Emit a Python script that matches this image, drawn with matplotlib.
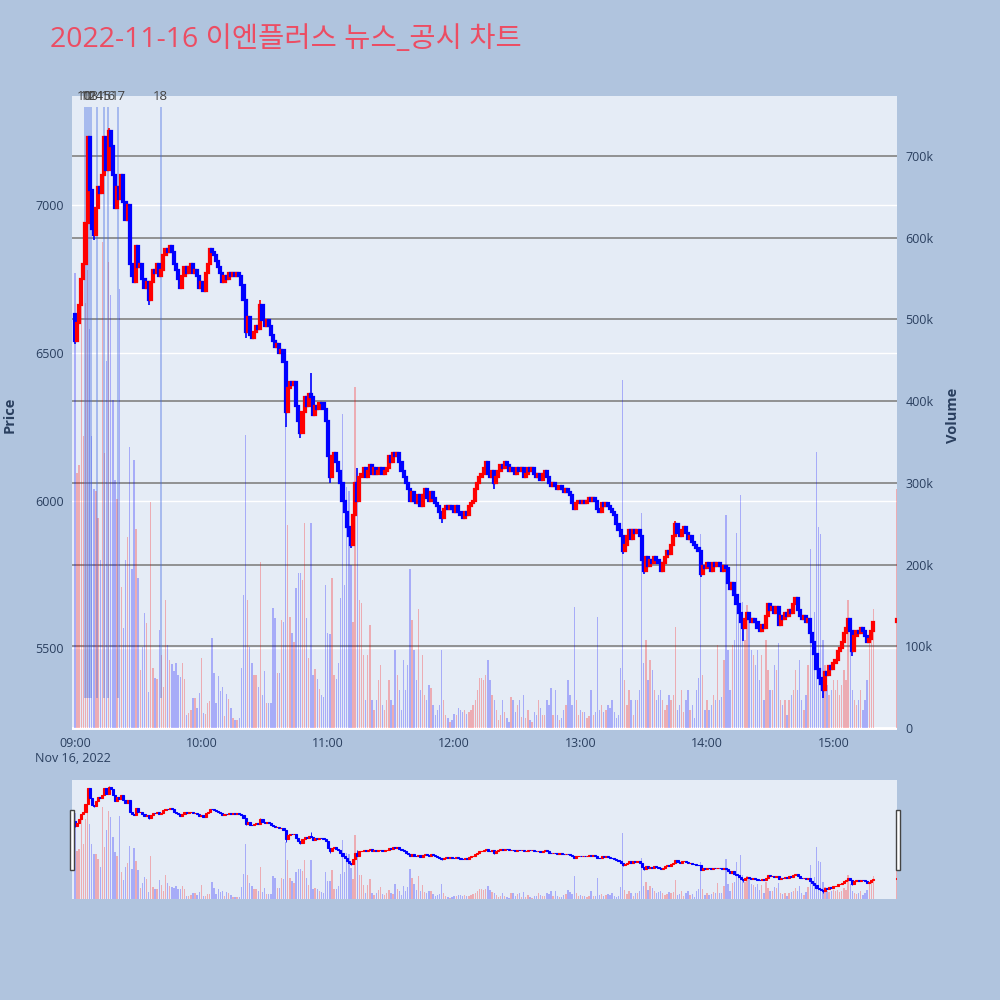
import numpy as np
import pandas as pd
import matplotlib
matplotlib.use('Agg')
import matplotlib.pyplot as plt
from matplotlib.patches import Rectangle
from matplotlib.transforms import blended_transform_factory
from matplotlib.ticker import FuncFormatter

plt.rcParams['font.family'] = ['Open Sans', 'Noto Sans CJK KR', 'DejaVu Sans']

# ---- data (1-minute candles, 2022-11-16) ----
first_open = 6630
closes = [
    6540, 6600, 6660, 6750, 6800, 6940, 7230, 7050, 6920, 6900,
    6990, 7060, 7040, 7100, 7230, 7120, 7250, 7200, 7100, 6990,
    7060, 7020, 7100, 7010, 6950, 7000, 6800, 6760, 6740, 6860,
    6790, 6800, 6750, 6720, 6740, 6680, 6740, 6780, 6770, 6800,
    6760, 6780, 6830, 6850, 6840, 6860, 6840, 6800, 6780, 6750,
    6720, 6760, 6790, 6770, 6790, 6800, 6770, 6780, 6760, 6720,
    6740, 6710, 6770, 6800, 6850, 6840, 6830, 6810, 6790, 6770,
    6740, 6760, 6750, 6770, 6760, 6770, 6760, 6770, 6760, 6730,
    6680, 6570, 6620, 6560, 6550, 6570, 6590, 6580, 6660, 6610,
    6590, 6610, 6590, 6560, 6540, 6520, 6530, 6500, 6510, 6470,
    6300, 6380, 6400, 6390, 6400, 6320, 6270, 6230, 6300, 6350,
    6320, 6360, 6350, 6290, 6320, 6310, 6330, 6330, 6310, 6270,
    6150, 6080, 6150, 6160, 6130, 6100, 6060, 6000, 5960, 5910,
    5880, 5850, 5950, 6060, 6000, 6080, 6090, 6110, 6080, 6100,
    6120, 6090, 6110, 6090, 6100, 6110, 6090, 6100, 6110, 6150,
    6130, 6160, 6150, 6160, 6130, 6100, 6080, 6060, 6040, 6000,
    6030, 6000, 5990, 6020, 5980, 6020, 6040, 6010, 6000, 6030,
    6010, 5990, 5980, 5960, 5940, 5970, 5980, 5970, 5980, 5970,
    5960, 5980, 5960, 5950, 5940, 5960, 5950, 5980, 5990, 6000,
    6040, 6060, 6080, 6090, 6110, 6130, 6090, 6080, 6100, 6060,
    6080, 6100, 6120, 6110, 6130, 6120, 6100, 6110, 6100, 6090,
    6110, 6100, 6110, 6080, 6090, 6110, 6100, 6110, 6090, 6080,
    6090, 6070, 6090, 6100, 6080, 6060, 6050, 6060, 6050, 6040,
    6050, 6040, 6030, 6040, 6030, 6020, 5990, 5970, 5990, 6000,
    5990, 6000, 5990, 6000, 6010, 6000, 6010, 6000, 5970, 5960,
    5990, 5980, 5990, 5980, 5970, 5960, 5950, 5920, 5900, 5880,
    5830, 5850, 5880, 5900, 5870, 5900, 5890, 5900, 5880, 5800,
    5760, 5810, 5780, 5800, 5790, 5810, 5800, 5790, 5760, 5790,
    5810, 5830, 5820, 5850, 5880, 5920, 5890, 5880, 5900, 5910,
    5890, 5870, 5880, 5860, 5850, 5840, 5830, 5750, 5780, 5770,
    5790, 5780, 5760, 5790, 5780, 5790, 5780, 5760, 5780, 5770,
    5720, 5700, 5720, 5680, 5650, 5620, 5590, 5570, 5600, 5620,
    5600, 5590, 5600, 5590, 5570, 5560, 5580, 5570, 5610, 5650,
    5630, 5640, 5620, 5640, 5580, 5610, 5600, 5620, 5610, 5630,
    5620, 5650, 5670, 5630, 5610, 5600, 5610, 5590, 5600, 5550,
    5520, 5480, 5430, 5400, 5380, 5360, 5420, 5410, 5440, 5430,
    5450, 5460, 5490, 5500, 5520, 5550, 5570, 5600, 5560, 5490,
    5540, 5560, 5550, 5570, 5560, 5540, 5520, 5530, 5560, 5590,
]
# closing auction at 15:30
close_auction_open = 5590
close_auction_price = 5600

# wicks that reach past the candle body (minute index -> price)
wick_lows = {0: 6530, 9: 6880, 35: 6660, 81: 6550, 100: 6250, 107: 6210,
             121: 6060, 131: 5840, 174: 5925, 199: 6040, 260: 5820,
             270: 5750, 297: 5740, 317: 5525, 355: 5330, 369: 5475}
wick_highs = {16: 7260, 88: 6680, 112: 6430, 134: 6110, 285: 5930}

# volume in thousands of shares
volumes_k = [
    557, 312, 322, 534, 357, 520, 560, 488, 357, 292,
    290, 257, 206, 595, 337, 449, 570, 530, 402, 304,
    280, 537, 173, 122, 206, 234, 344, 194, 328, 243,
    184, 71, 99, 141, 129, 44, 277, 73, 61, 60,
    120, 89, 50, 157, 102, 83, 78, 70, 80, 65,
    62, 80, 60, 16, 18, 22, 37, 37, 25, 43,
    86, 18, 17, 31, 33, 110, 67, 30, 63, 45,
    50, 15, 42, 36, 25, 12, 10, 10, 12, 73,
    163, 359, 157, 99, 80, 65, 65, 50, 203, 40,
    70, 30, 30, 30, 147, 135, 67, 67, 132, 130,
    369, 249, 136, 116, 105, 171, 190, 190, 181, 251,
    135, 86, 251, 65, 72, 60, 48, 40, 38, 175,
    116, 115, 184, 65, 60, 80, 159, 384, 175, 295,
    290, 200, 130, 417, 300, 157, 153, 89, 34, 89,
    126, 34, 22, 34, 59, 77, 28, 22, 34, 59,
    34, 28, 96, 65, 47, 22, 83, 47, 77, 194,
    132, 96, 59, 145, 47, 89, 40, 34, 52, 49,
    28, 16, 22, 28, 96, 34, 16, 12, 7, 10,
    17, 16, 25, 22, 20, 22, 17, 20, 22, 28,
    34, 47, 61, 61, 59, 65, 83, 59, 40, 34,
    22, 10, 16, 34, 20, 12, 7, 38, 34, 20,
    28, 34, 13, 40, 12, 22, 10, 7, 20, 16,
    34, 25, 16, 16, 34, 28, 49, 16, 47, 16,
    10, 12, 22, 28, 59, 40, 28, 148, 34, 16,
    22, 20, 20, 12, 15, 47, 16, 20, 136, 22,
    28, 20, 22, 28, 25, 34, 20, 12, 16, 73,
    426, 59, 28, 47, 34, 16, 34, 34, 47, 263,
    80, 108, 59, 83, 71, 47, 34, 40, 47, 34,
    22, 28, 40, 34, 40, 124, 22, 28, 47, 20,
    34, 47, 22, 28, 12, 47, 61, 237, 65, 22,
    34, 22, 28, 40, 34, 102, 34, 38, 83, 261,
    96, 47, 102, 108, 239, 157, 285, 154, 108, 150,
    132, 96, 89, 77, 96, 59, 89, 34, 108, 71,
    47, 47, 77, 71, 104, 34, 28, 34, 16, 34,
    40, 47, 71, 47, 83, 34, 22, 40, 77, 219,
    105, 142, 338, 246, 238, 108, 77, 52, 40, 47,
    59, 47, 59, 40, 52, 71, 59, 157, 96, 47,
    34, 28, 34, 47, 22, 34, 59, 108, 108, 145,
]
close_auction_volume_k = 292

# news / disclosure markers
news_times = ['09:04:40', '09:05:50', '09:06:50', '09:07:35', '09:10:20',
              '09:14:00', '09:15:50', '09:20:30', '09:40:40']
news_labels = ['10', '11', '12', '13', '14', '15', '16', '17', '18']

# ---- build OHLC frame ----
day = pd.Timestamp('2022-11-16 09:00')
times = list(pd.date_range(day, periods=len(closes), freq='min')) + [pd.Timestamp('2022-11-16 15:30')]
c = np.array(closes + [close_auction_price], dtype=float)
o = np.concatenate([[first_open], c[:-2], [close_auction_open]])
df = pd.DataFrame({'time': times, 'open': o, 'close': c,
                   'volume': np.array(volumes_k + [close_auction_volume_k]) * 1000})
df['high'] = df[['open', 'close']].max(axis=1)
df['low'] = df[['open', 'close']].min(axis=1)
for k, v in wick_lows.items():
    df.loc[k, 'low'] = v
for k, v in wick_highs.items():
    df.loc[k, 'high'] = v
df['x'] = (df['time'] - day).dt.total_seconds() / 60
news_x = [(pd.Timestamp('2022-11-16 ' + t) - day).total_seconds() / 60 for t in news_times]

up = df['close'] > df['open']
cols = np.where(up, 'red', 'blue')

BG = '#B0C4DE'
PLOT_BG = '#E5ECF6'
FONT_C = '#2a3f5f'

price_lim = (df['low'].min() * 0.98, df['high'].max() * 1.015)
vol_lim = (-2500, df['volume'].max() * 1.3)
x_lim = (-1.4, 390.2)


def draw_candles(ax, body_w, lw, wick_lw):
    ax.vlines(df['x'], df['low'], df['high'], colors=cols, linewidth=wick_lw, zorder=3)
    ax.bar(df['x'], (df['close'] - df['open']).abs(), bottom=df[['open', 'close']].min(axis=1),
           width=body_w, color=cols, edgecolor=cols, linewidth=lw, zorder=4)


def draw_volume(ax, w):
    ax.bar(df['x'], df['volume'], width=w, color=cols, alpha=0.27, linewidth=0, zorder=2)


fig = plt.figure(figsize=(10, 10), dpi=100, facecolor=BG)

# ---- main chart ----
L, R = 0.072, 0.897
ax_v = fig.add_axes([L, 0.270, R - L, 0.634])
ax_v.set_facecolor(PLOT_BG)
ax_p = ax_v.twinx()
ax_v.yaxis.tick_right()
ax_p.yaxis.tick_left()

ax_v.set_xlim(*x_lim)
ax_v.set_ylim(*vol_lim)
ax_p.set_ylim(*price_lim)

# gridlines below everything
price_ticks = [5500, 6000, 6500, 7000]
vol_ticks = [0, 100000, 200000, 300000, 400000, 500000, 600000, 700000]
tr = blended_transform_factory(ax_v.transAxes, ax_p.transData)
for t in price_ticks:
    ax_v.plot([0, 1], [t, t], transform=tr, color='white', linewidth=1, zorder=0.5)
for t in vol_ticks[1:]:
    ax_v.axhline(t, color='#8a8a8a', linewidth=1.3, zorder=0.6)
ax_v.axhline(0, color='white', linewidth=2, zorder=0.7)

draw_volume(ax_v, 0.65)

# news markers
ax_p.vlines(news_x, df['low'].min(), df['high'].max() * 1.01, colors='royalblue',
            alpha=0.45, linewidth=1.2, zorder=2)
ttr = blended_transform_factory(ax_p.transData, ax_p.transAxes)
for nx_, lab in zip(news_x, news_labels):
    ax_p.text(nx_, 1.0, lab, transform=ttr, ha='center', va='center', fontsize=9.5,
              color='#444444', clip_on=False)

draw_candles(ax_p, 1.0, 1.6, 1.2)

ax_p.set_yticks(price_ticks)
ax_v.set_yticks(vol_ticks)
ax_v.yaxis.set_major_formatter(FuncFormatter(lambda v, p: '0' if v == 0 else f'{int(v / 1000)}k'))
hour_ticks = [0, 60, 120, 180, 240, 300, 360]
ax_v.set_xticks(hour_ticks)
ax_v.set_xticklabels([(day + pd.Timedelta(minutes=m)).strftime('%H:%M') for m in hour_ticks])
for a in (ax_v, ax_p):
    a.tick_params(length=0, labelsize=9, labelcolor=FONT_C, pad=6)
    for s in a.spines.values():
        s.set_visible(False)
ax_v.tick_params(axis='x', pad=5)

fig.text(0.073, 1 - 0.758, 'Nov 16, 2022', ha='center', va='center', fontsize=9, color=FONT_C)
fig.text(0.010, 1 - 0.415, 'Price', rotation=90, ha='center', va='center', fontsize=10.5,
         fontweight='bold', color=FONT_C)
fig.text(0.953, 1 - 0.415, 'Volume', rotation=90, ha='center', va='center', fontsize=10.5,
         fontweight='bold', color=FONT_C)
fig.text(0.050, 1 - 0.040, '2022-11-16 이엔플러스 뉴스_공시 차트', ha='left', va='center',
         fontsize=20.5, color='#EC4D63')

# ---- range slider ----
ax_sv = fig.add_axes([L, 1 - 0.899, R - L, 0.119])
ax_sv.set_facecolor(PLOT_BG)
ax_sp = ax_sv.twinx()
ax_sv.set_xlim(*x_lim)
ax_sv.set_ylim(*vol_lim)
ax_sp.set_ylim(*price_lim)
draw_volume(ax_sv, 0.65)
draw_candles(ax_sp, 1.0, 0.8, 0.6)
for a in (ax_sv, ax_sp):
    a.set_xticks([])
    a.set_yticks([])
    for s in a.spines.values():
        s.set_visible(False)
for hx in (0.0695, 0.8955):
    fig.patches.append(Rectangle((hx, 1 - 0.870), 0.004, 0.060, transform=fig.transFigure,
                                 facecolor='white', edgecolor='#444444', linewidth=1))

fig.savefig('out.png', dpi=100, facecolor=BG)
